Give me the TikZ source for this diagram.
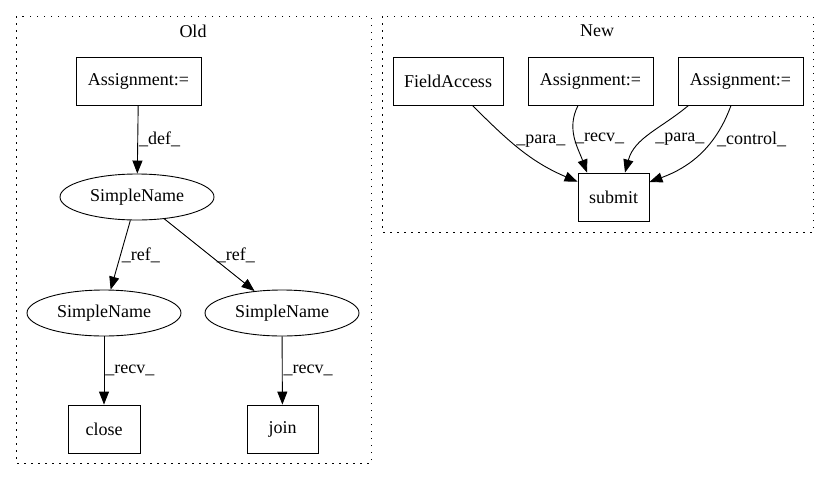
\documentclass[tikz,border=0pt]{standalone}
\usepackage{fontspec}
\setmainfont{Liberation Serif}
\usetikzlibrary{arrows.meta, shapes.geometric}

\begin{document}
\begin{tikzpicture}
        [x=1pt, y=-1pt,
         every node/.style={font=\fontsize{18}{22}\selectfont},
         box/.style={draw, rectangle, line width=0.9pt, minimum height=48pt, inner sep=0pt},
         sname/.style={draw, ellipse, line width=0.9pt, minimum width=154pt, minimum height=46pt, inner sep=0pt},
         cluster/.style={draw, line width=0.9pt, dash pattern=on 1.5pt off 5.5pt},
         lbl/.style={inner sep=1pt},
         >={Triangle[length=13pt, width=10pt]}]
        \useasboundingbox (0,0) rectangle (829,480);

        % Old
        \draw[cluster] (16,16) rectangle (371,463);
        \node (old) at (193,31) {Old};
        \node[box, minimum width=125pt] (asg) at (138.5,81) {Assignment:=};
        \node[sname] (sn) at (137,197) {SimpleName};
        \node[sname] (snl) at (104,313) {SimpleName};
        \node[sname] (snr) at (282,313) {SimpleName};
        \node[box, minimum width=72pt] (close) at (104,429) {close};
        \node[box, minimum width=71pt] (join) at (282.5,429) {join};

        \path [->, line width=0.9pt] (asg) edge node[lbl, right] {\_def\_} (sn);
        \path [->, line width=0.9pt] (sn) edge node[lbl, right] {\_ref\_} (snl);
        \path [->, line width=0.9pt] (sn) edge node[lbl, right=6pt] {\_ref\_} (snr);
        \path [->, line width=0.9pt] (snl) edge node[lbl, right] {\_recv\_} (close);
        \path [->, line width=0.9pt] (snr) edge node[lbl, right] {\_recv\_} (join);

        % New
        \draw[cluster] (382,16) rectangle (813,232);
        \node (new) at (597,31) {New};
        \node[box, minimum width=110pt] (fa) at (448,81) {FieldAccess};
        \node[box, minimum width=125pt] (asa) at (590.5,81) {Assignment:=};
        \node[box, minimum width=125pt] (asb) at (740.5,81) {Assignment:=};
        \node[box, minimum width=71pt] (sub) at (613.5,197) {submit};

        \path [->, line width=0.9pt] (fa) edge[out=-45, in=157] node[lbl, pos=0.5, xshift=20pt, yshift=8pt] {\_para\_} (sub);
        \path [->, line width=0.9pt] (asa) edge[out=-117, in=110] node[lbl, pos=0.5, anchor=west, inner sep=0pt] {\_recv\_} ([xshift=-26.5pt]sub.north);
        \path [->, line width=0.9pt] ([xshift=-52pt]asb.south) edge[out=-140, in=75] node[lbl, pos=0.5, anchor=west, xshift=4pt, yshift=-5pt] {\_para\_} ([xshift=11.5pt]sub.north);
        \path [->, line width=0.9pt] ([xshift=-9.5pt]asb.south) edge[out=-110, in=20] node[lbl, pos=0.4, anchor=west, xshift=8pt, yshift=6pt] {\_control\_} ([yshift=15pt]sub.east);
    \end{tikzpicture}
\end{document}
